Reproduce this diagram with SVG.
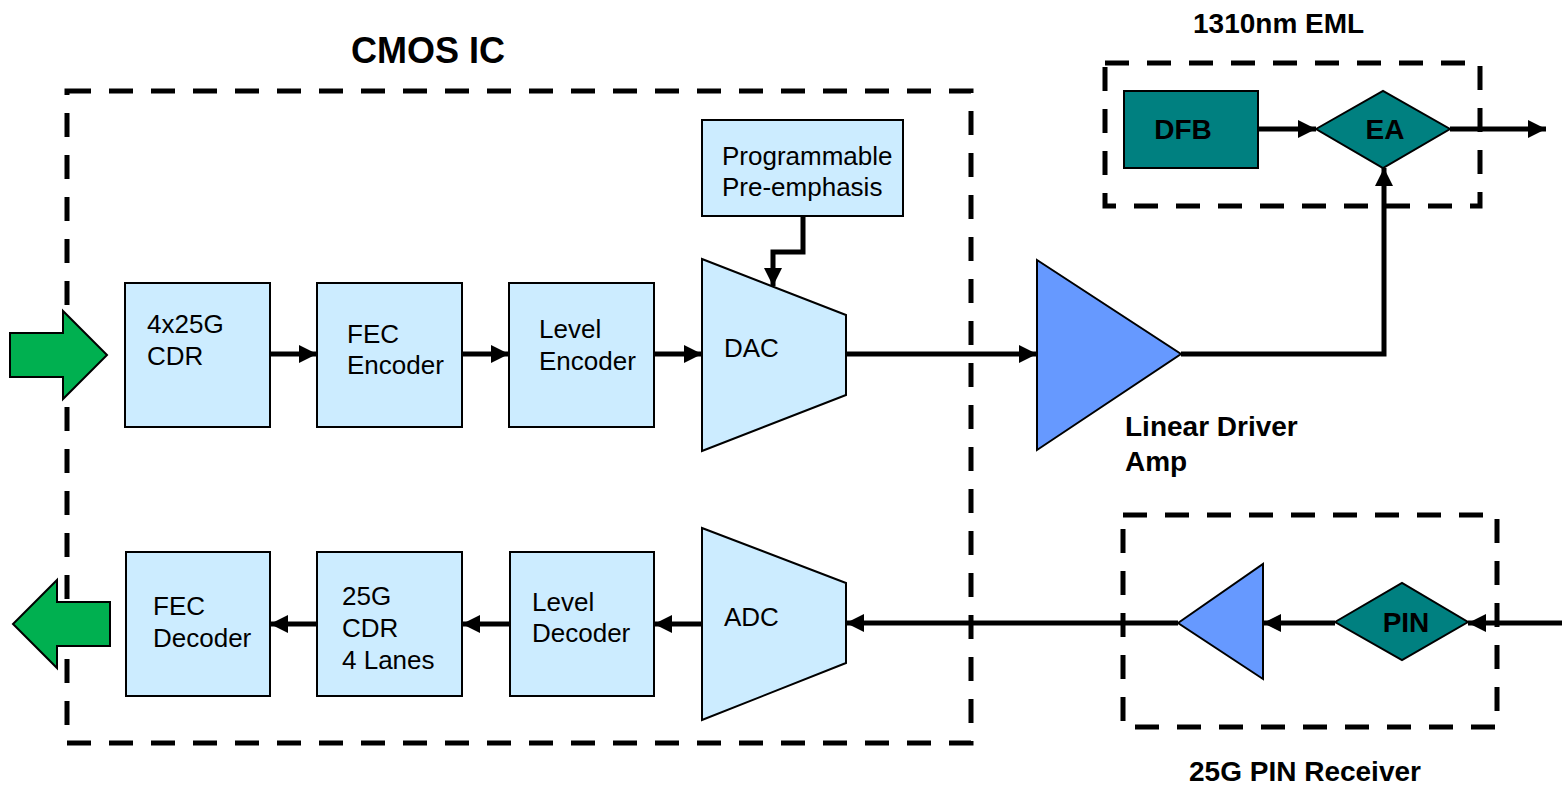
<svg xmlns="http://www.w3.org/2000/svg" width="1562" height="786" viewBox="0 0 1562 786">
<style>
text{font-family:"Liberation Sans",Arial,sans-serif;fill:#000}
.t{font-size:26px}
.b{font-size:28px;font-weight:bold}
.bi{font-size:28px;font-weight:bold}
.box{fill:#CCECFF;stroke:#000;stroke-width:2}
.teal{fill:#008080;stroke:#000;stroke-width:2}
.amp{fill:#6699FF;stroke:#000;stroke-width:2}
.green{fill:#00B050;stroke:#000;stroke-width:2}
.dash{fill:none;stroke:#000;stroke-width:5;stroke-dasharray:24 18}
.c{fill:none;stroke:#000;stroke-width:5;marker-end:url(#ah)}
</style>
<defs>
<marker id="ah" viewBox="0 0 18 18" markerWidth="18" markerHeight="18" refX="18" refY="9" orient="auto" markerUnits="userSpaceOnUse">
<path d="M0,0 L18,9 L0,18 z" fill="#000"/>
</marker>
</defs>
<rect width="1562" height="786" fill="#fff"/>

<g id="cmos-ic">
<rect class="dash" x="67" y="91" width="904" height="652"/>
<text class="b" x="351" y="63" style="font-size:36px">CMOS IC</text>
</g>
<g id="eml">
<rect class="dash" x="1105" y="63" width="375" height="143"/>
<text class="b" x="1193" y="33">1310nm EML</text>
</g>
<g id="pin-receiver">
<rect class="dash" x="1123" y="515" width="374" height="212"/>
<text class="b" x="1189" y="781">25G PIN Receiver</text>
</g>

<g id="connectors">
<path class="c" d="M270,354 H317"/>
<path class="c" d="M462,354 H509"/>
<path class="c" d="M654,354 H702"/>
<path class="c" d="M803,216 V252 H773 V286"/>
<path class="c" d="M846,354 H1037"/>
<path class="c" d="M1181,354 H1384 V168"/>
<path class="c" d="M1258,129 H1316"/>
<path class="c" d="M1450,129 H1546"/>
<path class="c" d="M1562,623 H1468"/>
<path class="c" d="M1335,623 H1263"/>
<path class="c" d="M1178,623 H846"/>
<path class="c" d="M702,624 H654"/>
<path class="c" d="M510,624 H462"/>
<path class="c" d="M317,624 H270"/>
</g>

<g id="input-arrow">
<polygon class="green" points="10,333 63,333 63,311 107,355 63,399 63,377 10,377"/>
</g>
<g id="output-arrow">
<polygon class="green" points="110,602 57,602 57,580 13,624 57,668 57,646 110,646"/>
</g>

<g id="cdr-4x25g">
<rect class="box" x="125" y="283" width="145" height="144"/>
<text class="t" x="147" y="333">4x25G</text>
<text class="t" x="147" y="365">CDR</text>
</g>
<g id="fec-encoder">
<rect class="box" x="317" y="283" width="145" height="144"/>
<text class="t" x="347" y="343">FEC</text>
<text class="t" x="347" y="374">Encoder</text>
</g>
<g id="level-encoder">
<rect class="box" x="509" y="283" width="145" height="144"/>
<text class="t" x="539" y="338">Level</text>
<text class="t" x="539" y="370">Encoder</text>
</g>
<g id="pre-emphasis">
<rect class="box" x="702" y="120" width="201" height="96"/>
<text class="t" x="722" y="165">Programmable</text>
<text class="t" x="722" y="196">Pre-emphasis</text>
</g>
<g id="dac">
<polygon class="box" points="702,259 846,315 846,395 702,451"/>
<text class="t" x="724" y="357">DAC</text>
</g>
<g id="driver-amp">
<polygon class="amp" points="1037,260 1181,354 1037,450"/>
<text class="b" x="1125" y="436">Linear Driver</text>
<text class="b" x="1125" y="471">Amp</text>
</g>
<g id="dfb">
<rect class="teal" x="1124" y="91" width="134" height="77"/>
<text class="bi" x="1183" y="139" text-anchor="middle">DFB</text>
</g>
<g id="ea">
<polygon class="teal" points="1316,129 1383,91 1450,129 1383,168"/>
<text class="bi" x="1385" y="139" text-anchor="middle">EA</text>
</g>

<g id="pin">
<polygon class="teal" points="1335,622 1402,583 1468,622 1402,660"/>
<text class="bi" x="1406" y="632" text-anchor="middle">PIN</text>
</g>
<g id="rx-amp">
<polygon class="amp" points="1178,623 1263,564 1263,679"/>
</g>
<g id="adc">
<polygon class="box" points="702,528 846,583 846,663 702,720"/>
<text class="t" x="724" y="626">ADC</text>
</g>
<g id="level-decoder">
<rect class="box" x="510" y="552" width="144" height="144"/>
<text class="t" x="532" y="611">Level</text>
<text class="t" x="532" y="642">Decoder</text>
</g>
<g id="cdr-25g">
<rect class="box" x="317" y="552" width="145" height="144"/>
<text class="t" x="342" y="605">25G</text>
<text class="t" x="342" y="637">CDR</text>
<text class="t" x="342" y="669">4 Lanes</text>
</g>
<g id="fec-decoder">
<rect class="box" x="126" y="552" width="144" height="144"/>
<text class="t" x="153" y="615">FEC</text>
<text class="t" x="153" y="647">Decoder</text>
</g>
</svg>
